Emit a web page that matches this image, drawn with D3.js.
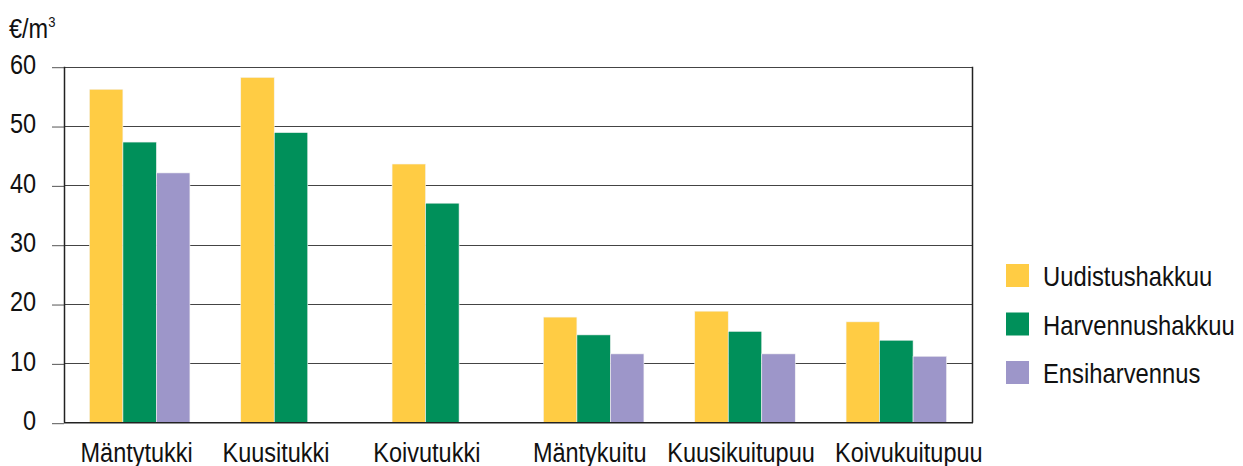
<!DOCTYPE html>
<html><head><meta charset="utf-8">
<script src="https://cdn.jsdelivr.net/npm/d3@7"></script>
<style>body{margin:0;background:#fff}svg{display:block}text{font-family:"Liberation Sans",Arial,sans-serif;fill:#111}</style>
</head><body>
<svg id="c" width="1243" height="466"></svg>
<script>
const categories = ["Mäntytukki","Kuusitukki","Koivutukki","Mäntykuitu","Kuusikuitupuu","Koivukuitupuu"];
const seriesNames = ["Uudistushakkuu","Harvennushakkuu","Ensiharvennus"];
const uudistushakkuu = [56.2, 58.2, 43.6, 17.8, 18.8, 17.0];
const harvennushakkuu = [47.3, 48.9, 37.0, 14.8, 15.4, 13.9];
const ensiharvennus = [42.1, null, null, 11.6, 11.6, 11.2];
const yTicks = [0,10,20,30,40,50,60];
const colors = ["#FFCC44","#00905A","#9D96C9"];
const unitLabel = "€/m";

const seriesValues = [uudistushakkuu, harvennushakkuu, ensiharvennus];
const svg = d3.select("#c");
const L=64, R=972, T=66.7, B=422.7;
const SX=0.87;
// category label horizontal nudges (layout, px)
const labelNudge = [-3, -15, -15.5, -4, -4, 12.5];
const y = d3.scaleLinear().domain([0,60]).range([B,T]);
const x0 = d3.scaleBand().domain(categories).range([L,R]).padding(0);
const x1 = d3.scaleBand().domain(seriesNames).range([0,x0.bandwidth()]).paddingInner(0).paddingOuter(0.758);

function label(g, txt, px, py, size, anchor, sx){
  return g.append("text").attr("transform",`translate(${px},${py}) scale(${sx},1)`)
    .attr("text-anchor",anchor).attr("font-size",size).text(txt);
}

// gridlines
svg.append("g").selectAll("line").data(yTicks.filter(d=>d>0)).join("line")
  .attr("x1",L).attr("x2",R).attr("y1",d=>Math.round(y(d))+0.5).attr("y2",d=>Math.round(y(d))+0.5)
  .attr("stroke","#444").attr("stroke-width",1);

// bars
const gBars = svg.append("g");
seriesNames.forEach((s,si)=>{
  gBars.selectAll(null).data(categories.map((c,i)=>({c,v:seriesValues[si][i]})).filter(d=>d.v!=null))
    .join("rect")
    .attr("x",d=>x0(d.c)+x1(s)).attr("width",x1.bandwidth())
    .attr("y",d=>y(d.v)).attr("height",d=>B-y(d.v))
    .attr("fill",colors[si]).attr("stroke","#f4f4f4").attr("stroke-width",0.6);
});

// y axis
const yAxis = d3.axisLeft(y).tickValues(yTicks).tickSize(12).tickPadding(16).tickFormat(d3.format("d"));
const ga = svg.append("g").attr("transform",`translate(${L},0)`).call(yAxis);
ga.select(".domain").remove();
ga.selectAll(".tick line").attr("stroke","#555").attr("y1",0.5).attr("y2",0.5);
ga.selectAll(".tick text").each(function(d){
  const t=d3.select(this); t.attr("font-size",27).attr("dy","0.33em").attr("fill","#111")
   .attr("transform",`translate(-28,-2) scale(${SX},1) translate(28,0)`).attr("font-family",null);
});

// frame
svg.append("line").attr("x1",L+0.5).attr("x2",L+0.5).attr("y1",T).attr("y2",B).attr("stroke","#222").attr("stroke-width",1.5);
svg.append("line").attr("x1",R+0.5).attr("x2",R+0.5).attr("y1",T).attr("y2",B).attr("stroke","#222").attr("stroke-width",1.5);
svg.append("line").attr("x1",L).attr("x2",R+1).attr("y1",B).attr("y2",B).attr("stroke","#222").attr("stroke-width",1.5);

// category labels
const gc = svg.append("g");
categories.forEach((c,i)=>label(gc,c,x0(c)+x0.bandwidth()/2+labelNudge[i],461.5,27,"middle",SX));

// unit label
const ut = svg.append("text").attr("transform",`translate(9,38) scale(${SX},1)`).attr("font-size",27);
ut.append("tspan").text(unitLabel);
ut.append("tspan").attr("font-size",15).attr("dy",-11).text("3");

// legend
const gl = svg.append("g");
seriesNames.forEach((s,i)=>{
  const yy = 264 + i*48.5;
  gl.append("rect").attr("x",1006).attr("y",yy).attr("width",23).attr("height",23).attr("fill",colors[i]);
  label(gl,s,1043,yy+22,28,"start",0.85);
});
</script>
</body></html>
